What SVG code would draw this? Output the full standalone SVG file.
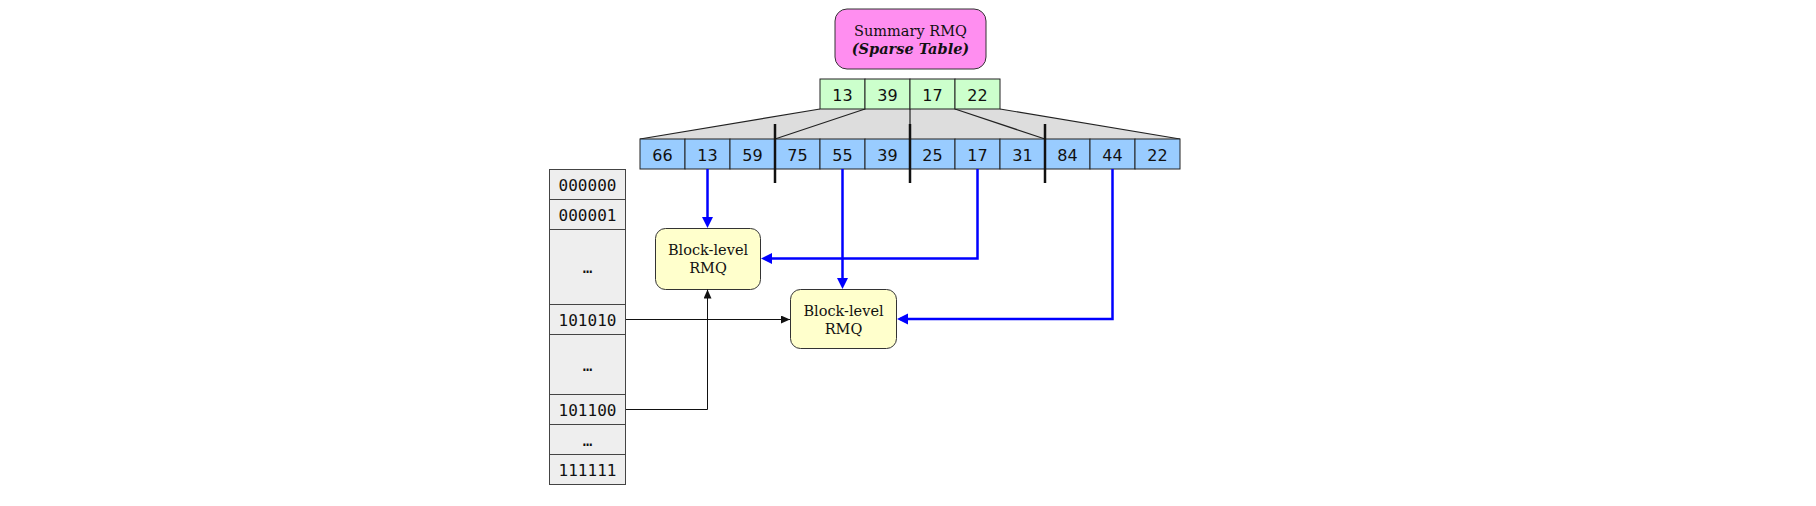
<svg xmlns="http://www.w3.org/2000/svg" width="1816" height="506" viewBox="0 0 1816 506">
<style>
.cell{stroke:#222;stroke-width:1}
.g{fill:#ccffcc}
.b{fill:#99ccff}
.num{font-family:"DejaVu Sans",sans-serif;font-size:16px;text-anchor:middle;fill:#111}
.mono{font-family:"DejaVu Sans Mono",monospace;font-size:16px;text-anchor:middle;fill:#111}
.lbl{font-family:"DejaVu Serif",serif;font-size:14.5px;text-anchor:middle;fill:#111}
.row{fill:#eeeeee;stroke:#444;stroke-width:1}
.blk{fill:#ffffcc;stroke:#333;stroke-width:1}
.fan{stroke:#222;stroke-width:1.2;fill:none}
.sep{stroke:#111;stroke-width:2.5}
.blue{stroke:#0000ff;stroke-width:2.5;fill:none}
.black{stroke:#111;stroke-width:1;fill:none}
</style>
<defs>
<marker id="ab" markerUnits="userSpaceOnUse" markerWidth="12" markerHeight="12" refX="8" refY="5.5" orient="auto">
<path d="M0,0 L11,5.5 L0,11 z" fill="#0000ff"/>
</marker>
<marker id="ak" markerUnits="userSpaceOnUse" markerWidth="10" markerHeight="10" refX="9" refY="4" orient="auto">
<path d="M0,0 L9,4 L0,8 z" fill="#111"/>
</marker>
</defs>

<g id="fan">
<polygon points="820,109 1000,109 1180,139 640,139" fill="#dddddd"/>
<line class="fan" x1="820" y1="109" x2="640" y2="139"/>
<line class="fan" x1="865" y1="109" x2="775" y2="139"/>
<line class="fan" x1="910" y1="109" x2="910" y2="139"/>
<line class="fan" x1="955" y1="109" x2="1045" y2="139"/>
<line class="fan" x1="1000" y1="109" x2="1180" y2="139"/>
</g>

<g id="summary">
<rect x="835" y="9" width="151" height="60" rx="12" fill="#ff8ef0" stroke="#333" stroke-width="1"/>
<text class="lbl" x="910.5" y="35.5">Summary RMQ</text>
<text class="lbl" x="910.5" y="53.5" font-weight="bold" font-style="italic">(Sparse Table)</text>
</g>

<g id="sparse-table">
<rect class="cell g" x="820" y="79" width="45" height="30"/>
<rect class="cell g" x="865" y="79" width="45" height="30"/>
<rect class="cell g" x="910" y="79" width="45" height="30"/>
<rect class="cell g" x="955" y="79" width="45" height="30"/>
<text class="num" x="842.5" y="100.5">13</text>
<text class="num" x="887.5" y="100.5">39</text>
<text class="num" x="932.5" y="100.5">17</text>
<text class="num" x="977.5" y="100.5">22</text>
</g>

<g id="array">
<rect class="cell b" x="640" y="139" width="45" height="30"/>
<rect class="cell b" x="685" y="139" width="45" height="30"/>
<rect class="cell b" x="730" y="139" width="45" height="30"/>
<rect class="cell b" x="775" y="139" width="45" height="30"/>
<rect class="cell b" x="820" y="139" width="45" height="30"/>
<rect class="cell b" x="865" y="139" width="45" height="30"/>
<rect class="cell b" x="910" y="139" width="45" height="30"/>
<rect class="cell b" x="955" y="139" width="45" height="30"/>
<rect class="cell b" x="1000" y="139" width="45" height="30"/>
<rect class="cell b" x="1045" y="139" width="45" height="30"/>
<rect class="cell b" x="1090" y="139" width="45" height="30"/>
<rect class="cell b" x="1135" y="139" width="45" height="30"/>
<text class="num" x="662.5" y="160.5">66</text>
<text class="num" x="707.5" y="160.5">13</text>
<text class="num" x="752.5" y="160.5">59</text>
<text class="num" x="797.5" y="160.5">75</text>
<text class="num" x="842.5" y="160.5">55</text>
<text class="num" x="887.5" y="160.5">39</text>
<text class="num" x="932.5" y="160.5">25</text>
<text class="num" x="977.5" y="160.5">17</text>
<text class="num" x="1022.5" y="160.5">31</text>
<text class="num" x="1067.5" y="160.5">84</text>
<text class="num" x="1112.5" y="160.5">44</text>
<text class="num" x="1157.5" y="160.5">22</text>
</g>

<g id="separators">
<line class="sep" x1="775" y1="124" x2="775" y2="183"/>
<line class="sep" x1="910" y1="124" x2="910" y2="183"/>
<line class="sep" x1="1045" y1="124" x2="1045" y2="183"/>
</g>

<g id="lookup-table">
<rect class="row" x="549.5" y="169.5" width="76" height="30"/>
<rect class="row" x="549.5" y="199.5" width="76" height="30"/>
<rect class="row" x="549.5" y="229.5" width="76" height="75"/>
<rect class="row" x="549.5" y="304.5" width="76" height="30"/>
<rect class="row" x="549.5" y="334.5" width="76" height="60"/>
<rect class="row" x="549.5" y="424.5" width="76" height="30"/>
<rect class="row" x="549.5" y="454.5" width="76" height="30"/>
<rect class="row" x="549.5" y="394.5" width="76" height="30" stroke="#111" stroke-width="1.5"/>
<text class="mono" x="587.5" y="190.5">000000</text>
<text class="mono" x="587.5" y="220.5">000001</text>
<text class="mono" x="587.5" y="273">…</text>
<text class="mono" x="587.5" y="325.5">101010</text>
<text class="mono" x="587.5" y="370.5">…</text>
<text class="mono" x="587.5" y="415.5">101100</text>
<text class="mono" x="587.5" y="445.5">…</text>
<text class="mono" x="587.5" y="475.5">111111</text>
</g>

<g id="block1">
<rect class="blk" x="655.5" y="228.5" width="105" height="61" rx="10"/>
<text class="lbl" x="708" y="255">Block-level</text>
<text class="lbl" x="708" y="273">RMQ</text>
</g>

<g id="block2">
<rect class="blk" x="790.5" y="289.5" width="106" height="59" rx="10"/>
<text class="lbl" x="843.5" y="315.5">Block-level</text>
<text class="lbl" x="843.5" y="333.5">RMQ</text>
</g>

<g id="connectors">
<path class="blue" d="M707.5,169 V225" marker-end="url(#ab)"/>
<path class="blue" d="M842.5,169 V286" marker-end="url(#ab)"/>
<path class="blue" d="M977.5,169 V258.5 H764" marker-end="url(#ab)"/>
<path class="blue" d="M1112.5,169 V319 H900" marker-end="url(#ab)"/>
<path class="black" d="M626,319.5 H790" marker-end="url(#ak)"/>
<path class="black" d="M626,409.5 H707.5 V289.5" marker-end="url(#ak)"/>
</g>
</svg>
